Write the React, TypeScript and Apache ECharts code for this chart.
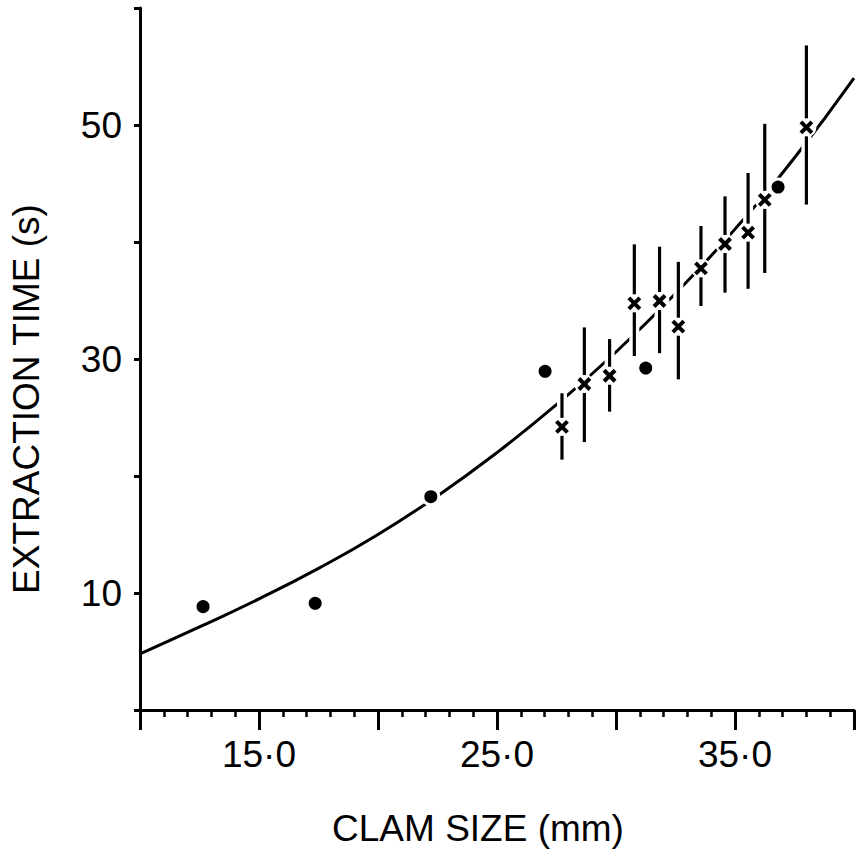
import React, { useEffect, useRef } from "react";
import * as echarts from "echarts";

// Fitted curve
const curveX = [10, 12.5, 15, 17.5, 20, 22.5, 25, 27.5, 30, 32.5, 35, 37.5, 40];
const curveY = [4.8, 7.1, 9.5, 12.1, 15.0, 18.3, 22.0, 26.1, 30.6, 35.6, 41.1, 47.2, 54.0];

// Filled circles
const circleX = [12.65, 17.36, 22.22, 27.02, 31.25, 36.81];
const circleY = [8.83, 9.12, 18.23, 28.95, 29.23, 44.7];

// Crosses with error bars
const crossX = [27.73, 28.67, 29.73, 30.77, 31.83, 32.62, 33.57, 34.58, 35.55, 36.25, 38.0];
const crossY = [24.2, 27.86, 28.57, 34.76, 34.96, 32.76, 37.75, 39.83, 40.8, 43.6, 49.8];
const crossLo = [21.4, 22.9, 25.5, 30.26, 30.5, 28.26, 34.53, 35.67, 36.0, 37.35, 43.2];
const crossHi = [27.07, 32.7, 31.7, 39.8, 39.6, 38.3, 41.37, 43.9, 45.9, 50.1, 56.8];

// Tick labels
const xLabelValues = [15, 25, 35];
const xTickLabels = ["15·0", "25·0", "35·0"];
const yLabelValues = [10, 30, 50];
const yTickLabels = ["10", "30", "50"];

const FONT = "Liberation Sans";

export default function App() {
  const ref = useRef<HTMLDivElement>(null);
  useEffect(() => {
    document.body.style.margin = "0";
    const chart = echarts.init(ref.current!, null, { renderer: "svg" });
    const crossData = crossX.map((x, i) => [x, crossY[i], crossLo[i], crossHi[i]]);
    chart.setOption({
      animation: false,
      backgroundColor: "#fff",
      grid: { left: 140, right: 2, top: 8, bottom: 146, containLabel: false },
      xAxis: {
        type: "value",
        min: 10,
        max: 40,
        interval: 5,
        name: "CLAM SIZE (mm)",
        nameLocation: "middle",
        nameGap: 100,
        nameTextStyle: { fontSize: 37, fontFamily: FONT, color: "#000", padding: [0, 38, 0, 0] },
        axisLine: { onZero: false, lineStyle: { color: "#000", width: 3 } },
        axisTick: { show: true, inside: false, length: 20, lineStyle: { color: "#000", width: 3 } },
        minorTick: { show: true, splitNumber: 5, length: 7, lineStyle: { color: "#000", width: 2.5 } },
        splitLine: { show: false },
        axisLabel: {
          margin: 26,
          fontSize: 37,
          fontFamily: FONT,
          color: "#000",
          showMinLabel: true,
          showMaxLabel: true,
          formatter: (v: number) => {
            const i = xLabelValues.indexOf(Math.round(v * 100) / 100);
            return i >= 0 ? xTickLabels[i] : "";
          },
        },
      },
      yAxis: {
        type: "value",
        min: 0,
        max: 60,
        interval: 10,
        name: "EXTRACTION TIME (s)",
        nameLocation: "middle",
        nameGap: 95,
        nameTextStyle: { fontSize: 37, fontFamily: FONT, color: "#000", padding: [0, 80, 0, 0] },
        axisLine: { onZero: false, lineStyle: { color: "#000", width: 3 } },
        axisTick: { show: true, inside: false, length: 6, lineStyle: { color: "#000", width: 3 } },
        splitLine: { show: false },
        axisLabel: {
          margin: 18,
          fontSize: 37,
          fontFamily: FONT,
          color: "#000",
          formatter: (v: number) => {
            const i = yLabelValues.indexOf(Math.round(v));
            return i >= 0 ? yTickLabels[i] : "";
          },
        },
      },
      series: [
        {
          type: "line",
          data: curveX.map((x, i) => [x, curveY[i]]),
          smooth: true,
          showSymbol: false,
          lineStyle: { color: "#000", width: 3 },
          z: 1,
          silent: true,
        },
        {
          type: "custom",
          data: crossData,
          encode: { x: 0, y: 1 },
          z: 3,
          renderItem: (params: any, api: any) => {
            const x = api.value(0);
            const c = api.coord([x, api.value(1)]);
            const pLo = api.coord([x, api.value(2)]);
            const pHi = api.coord([x, api.value(3)]);
            const g = 9;
            const s = 5.5;
            return {
              type: "group",
              children: [
                { type: "line", shape: { x1: c[0], y1: pHi[1], x2: c[0], y2: pLo[1] }, style: { stroke: "#fff", lineWidth: 10 } },
                { type: "circle", shape: { cx: c[0], cy: c[1], r: 10 }, style: { fill: "#fff" } },
                { type: "line", shape: { x1: c[0], y1: pHi[1], x2: c[0], y2: c[1] - g }, style: { stroke: "#000", lineWidth: 3.2 } },
                { type: "line", shape: { x1: c[0], y1: c[1] + g, x2: c[0], y2: pLo[1] }, style: { stroke: "#000", lineWidth: 3.2 } },
                { type: "line", shape: { x1: c[0] - s, y1: c[1] - s, x2: c[0] + s, y2: c[1] + s }, style: { stroke: "#000", lineWidth: 4 } },
                { type: "line", shape: { x1: c[0] - s, y1: c[1] + s, x2: c[0] + s, y2: c[1] - s }, style: { stroke: "#000", lineWidth: 4 } },
              ],
            };
          },
        },
        {
          type: "scatter",
          data: circleX.map((x, i) => [x, circleY[i]]),
          symbol: "circle",
          symbolSize: 16,
          itemStyle: { color: "#000", borderColor: "#fff", borderWidth: 3, opacity: 1 },
          z: 4,
        },
      ],
    });
    return () => chart.dispose();
  }, []);
  return <div ref={ref} style={{ position: "fixed", left: 0, top: 0, width: 857, height: 856 }} />;
}
